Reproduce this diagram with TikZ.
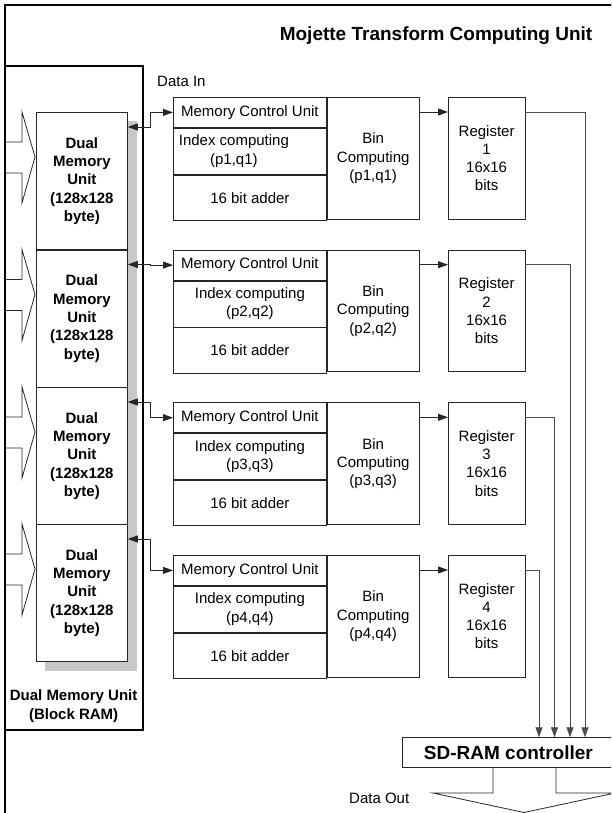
\documentclass[tikz,border=0pt]{standalone}
\usepackage{fontspec}
\setmainfont{Liberation Sans}
\usetikzlibrary{arrows.meta,calc}
\newcommand\ftn{\fontsize{15}{18.3}\selectfont}
\newcommand\ftb{\fontsize{15}{18.3}\selectfont\bfseries}
\newcommand\ftt{\fontsize{19}{22}\selectfont\bfseries}
\begin{document}
\begin{tikzpicture}[x=1pt,y=-1pt,
  line/.style={draw=black!85, line width=0.8pt},
  gline/.style={draw=black!70, line width=0.8pt},
  cell/.style 2 args={line, fill=white, minimum width=#1, minimum height=#2,
    anchor=north west, inner sep=0pt, align=center, font=\ftn},
  memu/.style={cell={91pt}{137.4pt}, font=\ftb},
  frame/.style={draw=black, line width=2pt},
  tip/.style={-{Triangle[length=10pt,width=7pt]}},
  bitip/.style={{Triangle[length=10pt,width=7pt]}-{Triangle[length=10pt,width=7pt]}},
  txt/.style={font=\ftn, align=center, inner sep=0pt}]
\useasboundingbox (0,0) rectangle (611,813);
\clip (0,0) rectangle (611,813);

% outer frame
\draw[frame] (5,830) -- (5,5) -- (620,5);
\node[font=\ftt, anchor=base] (title) at (436,40.7) {Mojette Transform Computing Unit};

% block RAM frame with shadow
\fill[black!22] (45,121) rectangle (137,671);
\draw[frame] (5,66) rectangle (143,730);
\node[font=\ftb, align=center, inner sep=0pt] (bram) at (73.6,706) {Dual Memory Unit\\(Block RAM)};

% memory units and input arrows
\foreach \i/\t in {1/112,2/249.5,3/387,4/524}{
  \node[memu] (m\i) at (36,\t) {Dual\\Memory\\Unit\\(128x128\\byte)};
  \draw[line] (5,{\t+30}) -- (22,{\t+30}) -- (22,\t) -- (35,{\t+45})
     -- (22,{\t+91}) -- (22,{\t+61}) -- (5,{\t+61});
}

\node[font=\ftn, anchor=base west, inner sep=0pt] (din) at (157,87) {Data In};

% computing blocks and registers
\foreach \i/\t/\dx in {1/97/-16,2/249.7/0,3/402.3/0,4/555/0}{
  \node[cell={153pt}{30pt}] (mcu\i) at (173,\t) {Memory Control Unit};
  \node[cell={153pt}{46pt}] (idx\i) at (mcu\i.south west) {};
  \node[txt] (idxt\i) at ([xshift=\dx pt]idx\i.center) {Index computing\\(p\i,q\i)};
  \node[cell={153pt}{45.5pt}] (add\i) at (idx\i.south west) {16 bit adder};
  \node[cell={92pt}{121.5pt}] (bin\i) at (mcu\i.north east) {Bin\\Computing\\(p\i,q\i)};
  \node[cell={76.5pt}{121.5pt}] (reg\i) at (448,\t) {Register\\\i\\16x16\\bits};
  \draw[line,bitip] ($(m\i.north east)+(0,15)$) -- ++(23,0) |- (mcu\i.west);
  \draw[line,tip] ($(bin\i.north east)+(0,15)$) -- ($(reg\i.north west)+(0,15)$);
}

% SD-RAM controller
\node[cell={212pt}{30pt}, font=\ftt] (sd) at (402,737.3) {SD-RAM controller};
\coordinate (s1) at (585,737.3);
\coordinate (s2) at (570,737.3);
\coordinate (s3) at (554.5,737.3);
\coordinate (s4) at (539,737.3);
\foreach \i in {1,...,4}{
  \draw[gline,tip] ($(reg\i.north east)+(0,15)$) -| (s\i);
}

% output arrow
\draw[line] (493,767.3) -- (493,793) -- (433,793) -- (524,812.5) -- (615,793)
   -- (556,793) -- (556,767.3);
\node[font=\ftn, anchor=base west, inner sep=0pt] (dout) at (349,803) {Data Out};
\end{tikzpicture}
\end{document}
